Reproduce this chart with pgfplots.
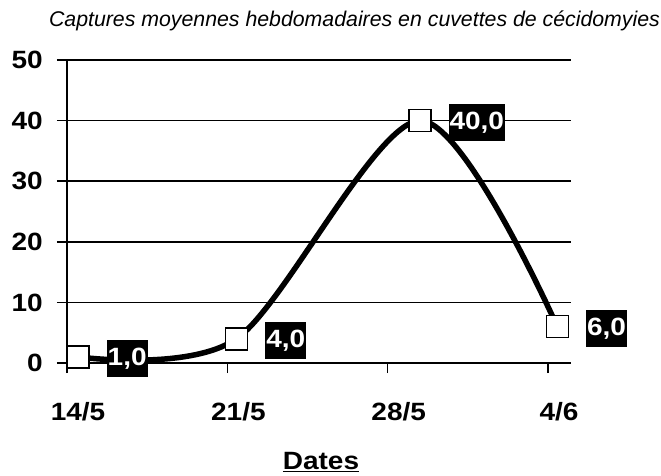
\documentclass[border=0pt]{standalone}
\usepackage{pgfplots}
\pgfplotsset{compat=1.18}
\usepackage{fontspec}
\setmainfont{Liberation Sans}
\newcommand{\wide}[1]{\scalebox{1.12}[1]{#1}}
\begin{document}
\begin{tikzpicture}[x=1pt,y=1pt]
\path[use as bounding box] (-67,-112) rectangle (594,363);
\begin{axis}[
  at={(0,0)}, anchor=south west,
  width=504pt, height=303pt, scale only axis,
  xmin=0, xmax=22, ymin=0, ymax=50,
  axis lines*=left,
  axis line style={line width=1.5pt, -},
  xtick={0,7,14,21},
  xticklabels={\wide{14/5},\wide{21/5},\wide{28/5},\wide{4/6}},
  ytick={0,10,...,50},
  yticklabel={\wide{\pgfmathprintnumber{\tick}}},
  ymajorgrids, major grid style={black, line width=1.5pt},
  tick align=outside, major tick length=10pt,
  tick style={black, line width=1.5pt},
  tick label style={font=\bfseries\fontsize{25}{25}\selectfont, inner sep=0pt},
  /pgf/number format/assume math mode=true,
  yticklabel style={anchor=east, xshift=-14pt},
  xticklabel style={anchor=north, yshift=-29pt, xshift=11pt},
  clip=false,
]
\addplot[black, line width=5.5pt, smooth, tension=0.5,
  mark=square*, mark size=11pt,
  mark options={fill=white, draw=black, line width=1.5pt},
  point meta=y,
  nodes near coords={\wide{\pgfmathprintnumber[fixed,fixed zerofill,precision=1,use comma,assume math mode=true]{\pgfplotspointmeta}}},
  every node near coord/.append style={anchor=west, xshift=28pt, yshift=-2pt,
    fill=black, text=white, font=\bfseries\fontsize{25}{25}\selectfont,
    inner xsep=1pt, inner ysep=0pt, minimum height=37pt},
] coordinates {(0.48,1.0) (7.4,4.0) (15.4,40.0) (21.4,6.0)};
\end{axis}
\node[anchor=base, font=\itshape\fontsize{21.3}{21.3}\selectfont] at (287.5,337) {Captures moyennes hebdomadaires en cuvettes de cécidomyies};
\node[anchor=base, font=\bfseries\fontsize{25}{25}\selectfont] at (254,-106.5) {\underline{\wide{Dates}}};
\end{tikzpicture}
\end{document}
